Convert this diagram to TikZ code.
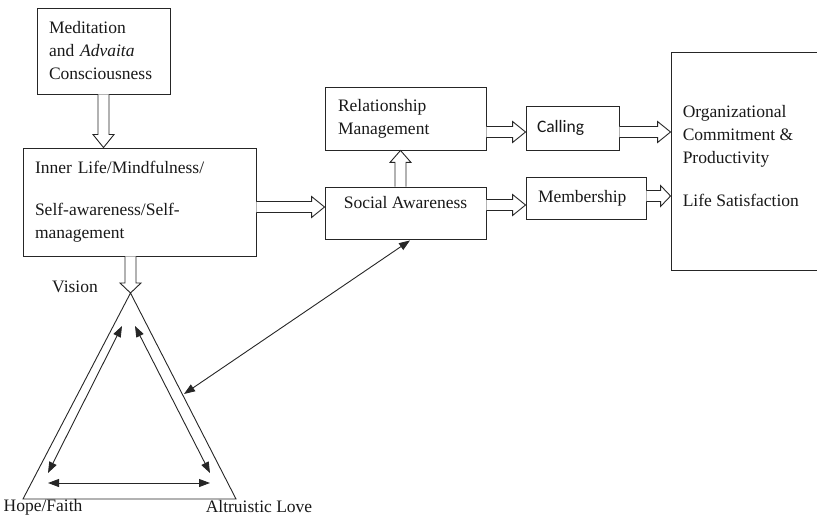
\documentclass[tikz,border=0pt]{standalone}
\usepackage{fontspec}
\setmainfont{Liberation Serif}
\newfontfamily\callfont{Carlito}
\usetikzlibrary{calc,arrows.meta}

% hollow block arrow from #2 to #3; optional #1 = head length
\newcommand{\hollowarrow}[3][13pt]{%
  \path ($(#3)!#1!(#2)$) coordinate (hb);
  \draw[hollowline] ($(#2)!5.5pt!90:(#3)$) -- ($(hb)!5.5pt!90:(#3)$)
    -- ($(hb)!10.5pt!90:(#3)$) -- (#3) -- ($(hb)!10.5pt!-90:(#3)$)
    -- ($(hb)!5.5pt!-90:(#3)$) -- ($(#2)!5.5pt!-90:(#3)$);
}

\tikzset{
  ink/.style={black!85},
  box/.style={draw=black!85, line width=0.9pt, rectangle, inner sep=0pt,
    font=\fontsize{17.5}{23}\selectfont, text=black!90},
  txt/.style={inner sep=0pt, font=\fontsize{17.5}{23}\selectfont, text=black!90},
  hollowline/.style={draw=black!85, line width=0.9pt, line join=miter, fill=white},
  thinarrow/.style={draw=black!85, line width=0.9pt,
    {Triangle[length=11pt,width=8pt]}-{Triangle[length=11pt,width=8pt]}},
}

\begin{document}
\begin{tikzpicture}[x=1pt, y=-1pt]
\useasboundingbox (0,0) rectangle (817,516);

% boxes
\node[box, minimum width=133, minimum height=86, text width=109, align=left]
  (med) at (103.5,51) {Meditation\\and \textit{Advaita}\\Consciousness};
\node[box, minimum width=233, minimum height=108, text width=209, align=left]
  (inner) at (139.5,202) {Inner Life/Mindfulness/\\[19pt]Self-awareness/Self-\\management};
\node[box, minimum width=161, minimum height=63, text width=135, align=left]
  (rm) at (405.5,118.5) {Relationship\\Management};
\node[box, minimum width=161, minimum height=52] (sa) at (405.5,213) {};
\node[txt] (satext) at ($(sa.center)+(0,-10)$) {Social Awareness};
\node[box, minimum width=93, minimum height=44, text width=71, align=left]
  (call) at (572.5,128) {\callfont Calling};
\node[box, minimum width=120, minimum height=42, text width=96, align=left]
  (mem) at (586,198) {Membership};
\node[box, minimum width=156, minimum height=218] (org) at (749,161) {};
\node[txt, anchor=west, align=left] (orgtext) at ($(org.west)+(12,-5)$)
  {Organizational\\Commitment \&\\Productivity\\[20pt]Life Satisfaction};

% triangle of vision, hope/faith and altruistic love
\coordinate (apex) at (130.5,293);
\coordinate (hf) at (23,499);
\coordinate (al) at (236,499);
\draw[ink, line width=0.9pt, line join=miter] (apex) -- (hf) -- (al) -- cycle;

\node[txt] (vision) at (75,287) {Vision};
\node[txt] (hope) at (43,507) {Hope/Faith};
\node[txt] (love) at (259,507) {Altruistic Love};

% block arrows
\hollowarrow{med.south}{med.south |- inner.north}
\coordinate (a2s) at ($(inner.east)+(0,5)$);
\hollowarrow{a2s}{a2s -| sa.west}
\coordinate (a3s) at ($(sa.north)+(-5,0)$);
\hollowarrow[12pt]{a3s}{a3s |- rm.south}
\coordinate (a4s) at ($(rm.east)+(0,13.5)$);
\hollowarrow{a4s}{a4s -| call.west}
\coordinate (a5s) at ($(call.east)+(0,4)$);
\hollowarrow{a5s}{a5s -| org.west}
\coordinate (a6s) at ($(sa.east)+(0,-8)$);
\hollowarrow{a6s}{a6s -| mem.west}
\coordinate (a7s) at ($(mem.east)+(0,-2)$);
\hollowarrow[10pt]{a7s}{a7s -| org.west}
\hollowarrow[10pt]{apex |- inner.south}{apex}

% relations inside the triangle
\coordinate (l1) at (122,326);
\coordinate (l2) at (48,473);
\coordinate (r1) at (135,326);
\coordinate (r2) at (210,473);
\coordinate (b1) at (48,483);
\coordinate (b2) at (210,483);
\draw[thinarrow] (l1) -- (l2);
\draw[thinarrow] (r1) -- (r2);
\draw[thinarrow] (b1) -- (b2);

% social awareness linked to the triangle
\coordinate (tri) at (184,394);
\coordinate (sain) at ($(sa.south)+(4.5,1)$);
\draw[thinarrow] (tri) -- (sain);
\end{tikzpicture}
\end{document}
